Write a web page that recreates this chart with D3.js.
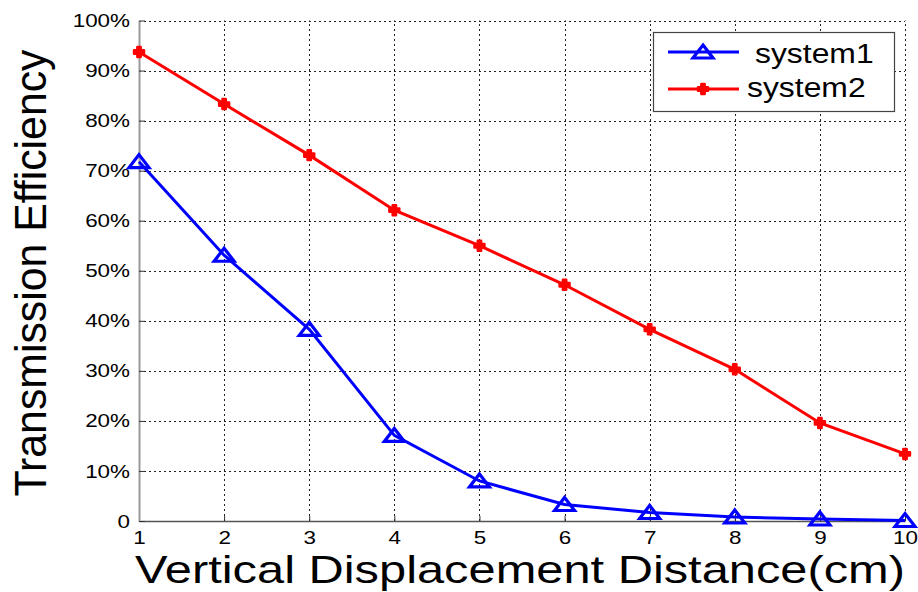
<!DOCTYPE html>
<html>
<head>
<meta charset="utf-8">
<script src="https://cdn.jsdelivr.net/npm/d3@7"></script>
<style>
  body { margin: 0; background: #fff; }
  svg text { font-family: "Liberation Sans", Arial, sans-serif; fill: #000; }
</style>
</head>
<body>
<div id="chart"></div>
<script>
// chart data
var distances = [1, 2, 3, 4, 5, 6, 7, 8, 9, 10];
var system1 = [0.718, 0.531, 0.383, 0.171, 0.080, 0.033, 0.017, 0.008, 0.004, 0.001];
var system2 = [0.937, 0.833, 0.731, 0.621, 0.550, 0.472, 0.383, 0.303, 0.196, 0.134];
var yTicks = [0, 0.1, 0.2, 0.3, 0.4, 0.5, 0.6, 0.7, 0.8, 0.9, 1.0];
var seriesNames = ["system1", "system2"];

var width = 918, height = 592;
var margin = {left: 139, right: 13, top: 20.5, bottom: 71};
var stretch = 1.18; // text in the reference is wider than plain Arial

var svg = d3.select("#chart").append("svg")
  .attr("width", width)
  .attr("height", height);

var x = d3.scaleLinear().domain([1, 10]).range([margin.left, width - margin.right]);
var y = d3.scaleLinear().domain([0, 1]).range([height - margin.bottom, margin.top]);

// grid
var grid = svg.append("g").attr("class", "grid")
  .attr("stroke", "#222").attr("stroke-width", 1).attr("stroke-dasharray", "2,3");
grid.selectAll("line.v").data(distances.slice(1)).enter().append("line")
  .attr("x1", function(d) { return Math.round(x(d)) + 0.5; })
  .attr("x2", function(d) { return Math.round(x(d)) + 0.5; })
  .attr("y1", y(0)).attr("y2", y(1));
grid.selectAll("line.h").data(yTicks.slice(1)).enter().append("line")
  .attr("y1", function(d) { return Math.round(y(d)) + 0.5; })
  .attr("y2", function(d) { return Math.round(y(d)) + 0.5; })
  .attr("x1", x(1)).attr("x2", x(10));

// axes (small ticks point inward)
var xAxis = svg.append("g")
  .attr("transform", "translate(0," + y(0) + ")")
  .call(d3.axisBottom(x).tickValues(distances).tickSizeInner(-5).tickSizeOuter(0).tickPadding(10)
    .tickFormat(d3.format("d")));
var yAxis = svg.append("g")
  .attr("transform", "translate(" + x(1) + ",0)")
  .call(d3.axisLeft(y).tickValues(yTicks).tickSizeInner(-6).tickSizeOuter(0).tickPadding(9)
    .tickFormat(function(d) { return d === 0 ? "0" : Math.round(d * 100) + "%"; }));
xAxis.select(".domain").attr("stroke", "#555").attr("stroke-width", 1.5);
yAxis.select(".domain").attr("stroke", "#999").attr("stroke-width", 2);
svg.selectAll(".tick line").attr("stroke", "#333");
svg.selectAll(".tick text").style("font-size", "19px").style("font-family", "Liberation Sans, Arial, sans-serif");

// lines
var line = d3.line()
  .x(function(d, i) { return x(distances[i]); })
  .y(function(d) { return y(d); });

svg.append("path").datum(system2)
  .attr("fill", "none").attr("stroke", "#ff0000").attr("stroke-width", 3)
  .attr("d", line);
svg.append("path").datum(system1)
  .attr("fill", "none").attr("stroke", "#0000ff").attr("stroke-width", 3)
  .attr("d", line);

function triangle(g, cx, cy) {
  g.append("path")
    .attr("d", "M" + cx + "," + (cy - 7) + "L" + (cx + 10) + "," + (cy + 6) + "L" + (cx - 10) + "," + (cy + 6) + "Z")
    .attr("fill", "none").attr("stroke", "#0000ff").attr("stroke-width", 3.2);
}
function dot(g, cx, cy) {
  g.append("path")
    .attr("transform", "translate(" + cx + "," + cy + ")")
    .attr("d", d3.symbol().type(d3.symbolCross).size(55)())
    .attr("fill", "#ff0000").attr("stroke", "#ff0000").attr("stroke-width", 2.5).attr("stroke-linejoin", "round");
}

var marks = svg.append("g");
system2.forEach(function(v, i) { dot(marks, x(distances[i]), y(v)); });
system1.forEach(function(v, i) { triangle(marks, x(distances[i]), y(v)); });

// legend
var legend = svg.append("g");
legend.append("rect").attr("x", 653.5).attr("y", 32.5).attr("width", 241).attr("height", 79)
  .attr("fill", "#fff").attr("stroke", "#444").attr("stroke-width", 1.2);
legend.append("line").attr("x1", 668).attr("x2", 739).attr("y1", 52).attr("y2", 52)
  .attr("stroke", "#0000ff").attr("stroke-width", 3);
triangle(legend, 703, 52);
legend.append("line").attr("x1", 668).attr("x2", 739).attr("y1", 89).attr("y2", 89)
  .attr("stroke", "#ff0000").attr("stroke-width", 3);
dot(legend, 703, 89);
legend.append("text").attr("x", 755).attr("y", 63).style("font-size", "27px").text(seriesNames[0]);
legend.append("text").attr("x", 747).attr("y", 97).style("font-size", "27px").text(seriesNames[1]);

// axis titles
svg.append("text").attr("class", "title")
  .attr("x", 135).attr("y", 583)
  .style("font-size", "39px")
  .attr("textLength", 770).attr("lengthAdjust", "spacingAndGlyphs")
  .text("Vertical Displacement Distance(cm)");
svg.append("text").attr("class", "title")
  .attr("transform", "translate(46,273) rotate(-90)")
  .attr("text-anchor", "middle")
  .style("font-size", "45px")
  .attr("textLength", 447).attr("lengthAdjust", "spacingAndGlyphs")
  .text("Transmission Efficiency");

// widen the small labels like the reference
svg.selectAll(".tick text, g text").filter(function() { return !this.classList.contains("title"); })
  .each(function() {
    var w = this.getComputedTextLength();
    d3.select(this).attr("textLength", w * stretch).attr("lengthAdjust", "spacingAndGlyphs");
  });
</script>
</body>
</html>
